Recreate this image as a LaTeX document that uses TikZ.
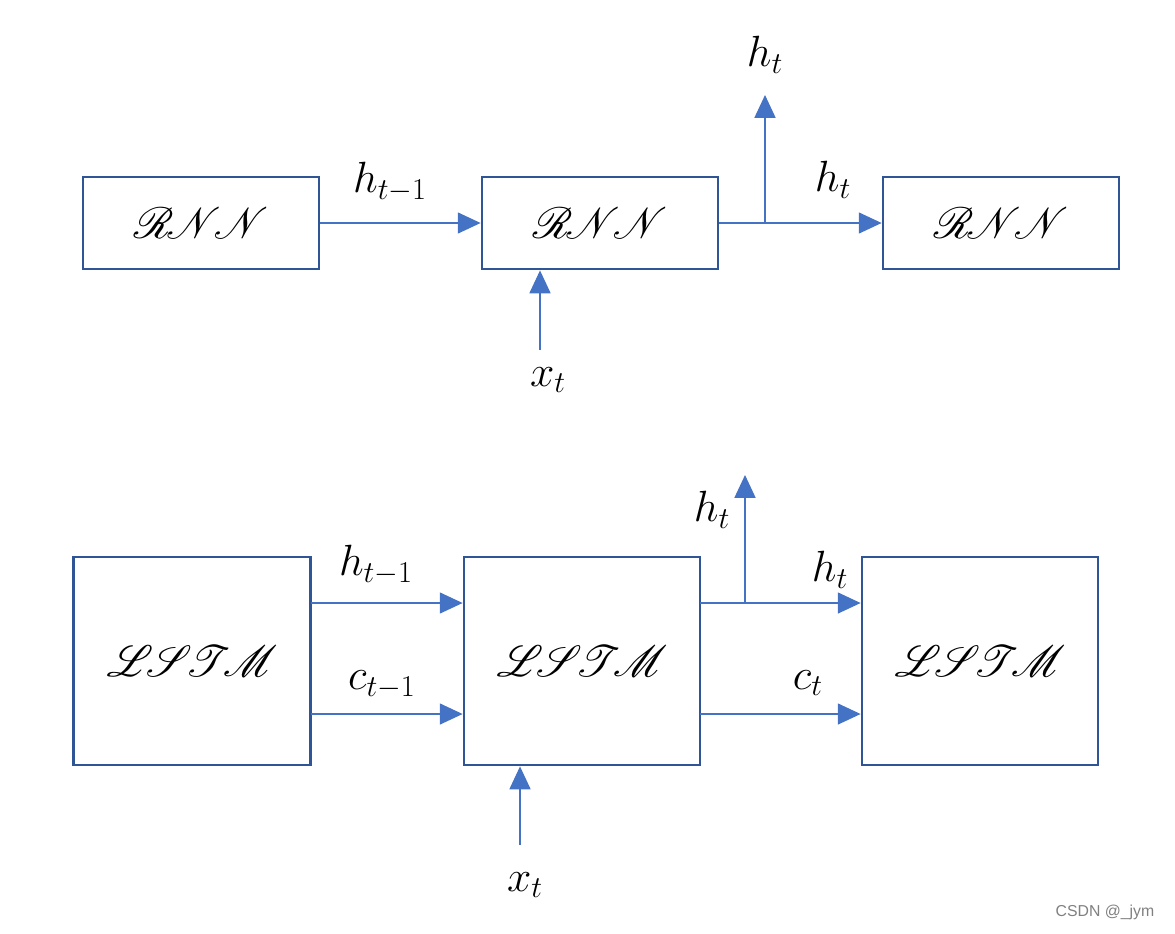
\documentclass[tikz,border=0pt]{standalone}
\usepackage{mathrsfs}
\usepackage{fontspec}
\setsansfont{Liberation Sans}
\usetikzlibrary{arrows.meta}
\definecolor{boxblue}{HTML}{2F5597}
\definecolor{arrowblue}{HTML}{4472C4}

\begin{document}
\begin{tikzpicture}[x=0.02cm,y=-0.02cm,
  cell/.style={draw=boxblue,line width=1.6pt,inner sep=0pt},
  flow/.style={draw=arrowblue,line width=0.7pt,-{Triangle[length=13pt,width=12pt]}},
  lbl/.style={font=\fontsize{26}{30}\selectfont},
  cellname/.style={font=\fontsize{24}{28}\selectfont}]
  \useasboundingbox (0,0) rectangle (1175,933);

  % RNN row
  \node[cell,minimum width=236*0.02cm,minimum height=92*0.02cm] (rnnA) at (201,223) {};
  \node[cell,minimum width=236*0.02cm,minimum height=92*0.02cm] (rnnB) at (600,223) {};
  \node[cell,minimum width=236*0.02cm,minimum height=92*0.02cm] (rnnC) at (1001,223) {};
  \node[cellname] at (rnnA) {$\mathscr{R\!N\!N}$};
  \node[cellname] at (rnnB) {$\mathscr{R\!N\!N}$};
  \node[cellname] at (rnnC) {$\mathscr{R\!N\!N}$};

  \coordinate (rnnSplit) at (765,223);
  \coordinate (rnnUp) at (765,95);
  \coordinate (rnnIn) at (540,350);
  \draw[flow] (rnnA) -- (rnnB);
  \draw[flow] (rnnB) -- (rnnC);
  \draw[flow] (rnnSplit) -- (rnnUp);
  \draw[flow] (rnnIn) -- (rnnIn |- rnnB.south);

  \node[lbl] at (390,182) {$h_{t-1}$};
  \node[lbl] at (765,55) {$h_t$};
  \node[lbl] at (833,180) {$h_t$};
  \node[lbl] at (548,380) {$x_t$};

  % LSTM row
  \node[cell,minimum width=237*0.02cm,minimum height=208*0.02cm] (lstmA) at (192,661) {};
  \node[cell,minimum width=236*0.02cm,minimum height=208*0.02cm] (lstmB) at (582,661) {};
  \node[cell,minimum width=236*0.02cm,minimum height=208*0.02cm] (lstmC) at (980,661) {};
  \node[cellname] at (lstmA) {$\mathscr{L\!S\!T\!M}$};
  \node[cellname] at (lstmB) {$\mathscr{L\!S\!T\!M}$};
  \node[cellname] at (lstmC) {$\mathscr{L\!S\!T\!M}$};

  \coordinate (hOutA) at (311,603);
  \coordinate (cOutA) at (311,714);
  \coordinate (hOutB) at (700,603);
  \coordinate (cOutB) at (700,714);
  \coordinate (lstmSplit) at (745,603);
  \coordinate (lstmUp) at (745,475);
  \coordinate (lstmIn) at (520,845);
  \draw[flow] (hOutA) -- (hOutA -| lstmB.west);
  \draw[flow] (cOutA) -- (cOutA -| lstmB.west);
  \draw[flow] (hOutB) -- (hOutB -| lstmC.west);
  \draw[flow] (cOutB) -- (cOutB -| lstmC.west);
  \draw[flow] (lstmSplit) -- (lstmUp);
  \draw[flow] (lstmIn) -- (lstmIn |- lstmB.south);

  \node[lbl] at (376,565) {$h_{t-1}$};
  \node[lbl] at (382,685) {$c_{t-1}$};
  \node[lbl] at (712,510) {$h_t$};
  \node[lbl] at (830,570) {$h_t$};
  \node[lbl] at (808,683) {$c_t$};
  \node[lbl] at (525,885) {$x_t$};

  \node[font=\sffamily\small,text=gray] (mark) at (1105,912) {CSDN @\_jym};
\end{tikzpicture}
\end{document}
